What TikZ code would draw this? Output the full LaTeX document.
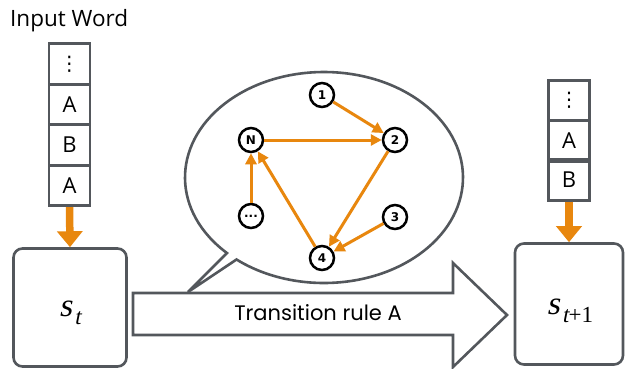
\documentclass[tikz,border=0pt]{standalone}
\usepackage{fontspec}
\setmainfont{Poppins}
\newfontfamily\osans{Open Sans}
\newfontfamily\tserif{Liberation Serif}[FakeSlant=0.2]
\newfontfamily\dejavu{DejaVu Sans}
\usetikzlibrary{arrows.meta,shapes.geometric}
\definecolor{lineg}{HTML}{53575C}
\definecolor{orng}{HTML}{E8870E}
\newcommand{\vdotsglyph}{{\dejavu\fontsize{20}{20}\selectfont ⋮}}
\newcommand{\stlabel}[1]{{\tserif\fontsize{33}{33}\selectfont s\kern2.5pt\raisebox{-8pt}{\fontsize{23}{23}\selectfont #1}}}
\tikzset{
  cell/.style={draw=lineg,line width=2.6pt,minimum width=41pt,minimum height=40.5pt,inner sep=0pt,font=\osans\fontsize{22}{22}\selectfont},
  statebox/.style={draw=lineg,line width=2.6pt,rounded corners=9pt,fill=white,inner sep=0pt},
  gnode/.style={circle,draw=black,line width=2.5pt,fill=white,minimum size=24pt,inner sep=0pt,font=\dejavu\bfseries\fontsize{12}{12}\selectfont},
  gedge/.style={draw=orng,line width=3pt,-{Triangle[width=11pt,length=11pt]}},
  feed/.style={draw=orng,line width=7.5pt,-{Triangle[width=25pt,length=16pt]}},
  outline/.style={draw=lineg,line width=2.6pt,fill=white,line join=miter},
}
\begin{document}
\begin{tikzpicture}[x=1pt,y=-1pt]
\useasboundingbox (0,0) rectangle (625,368);
% title
\node[anchor=base west,inner sep=0pt,font=\osans\fontsize{22.5}{22.5}\selectfont] (title) at (10,26) {Input Word};
% left stack
\node[cell] (l0) at (69.5,64) {\vdotsglyph};
\node[cell] (l1) at (69.5,104.5) {A};
\node[cell] (l2) at (69.5,145) {B};
\node[cell] (l3) at (69.5,185.5) {A};
% right stack
\node[cell] (r0) at (569,100.5) {\vdotsglyph};
\node[cell] (r1) at (569,141) {A};
\node[cell] (r2) at (569,180) {B};
% state boxes
\node[statebox,minimum width=113pt,minimum height=118pt] (st) at (70,307.5) {};
\node[inner sep=0pt] (stl) at (70,313) {\stlabel{t}};
\node[statebox,minimum width=108pt,minimum height=121pt] (st1) at (569,304) {};
\node[inner sep=0pt] (st1l) at (570,311) {\stlabel{t{\fontspec{Liberation Serif}+1}}};
% feed arrows
\draw[feed] (l3.south) -- (st.north);
\draw[feed] (r2.south) -- (st1.north);
% speech bubble
\coordinate (tip) at (188,292);
\draw[outline] (324,177.5) ++(134.3:139 and 105.5) arc[start angle=134.3,end angle=489,x radius=139,y radius=105.5] -- (tip) -- cycle;
% big arrow
\draw[outline] (133,293) -- (453,293) -- (453,263) -- (507,315) -- (453,367) -- (453,335) -- (133,335) -- cycle;
\node[font=\fontsize{21}{21}\selectfont,inner sep=0pt] (rule) at (318,313) {Transition rule A};
% graph
\node[gnode] (n1) at (322,95) {1};
\node[gnode] (n2) at (395,140) {2};
\node[gnode] (nN) at (251,140) {N};
\node[gnode] (nd) at (251,216) {...};
\node[gnode] (n3) at (395,217) {3};
\node[gnode] (n4) at (322,258) {4};
\draw[gedge] (n1) -- (n2);
\draw[gedge] (nN) -- (n2);
\draw[gedge] (n2) -- (n4);
\draw[gedge] (n3) -- (n4);
\draw[gedge] (n4) -- (nN);
\draw[gedge] (nd) -- (nN);
\end{tikzpicture}
\end{document}
